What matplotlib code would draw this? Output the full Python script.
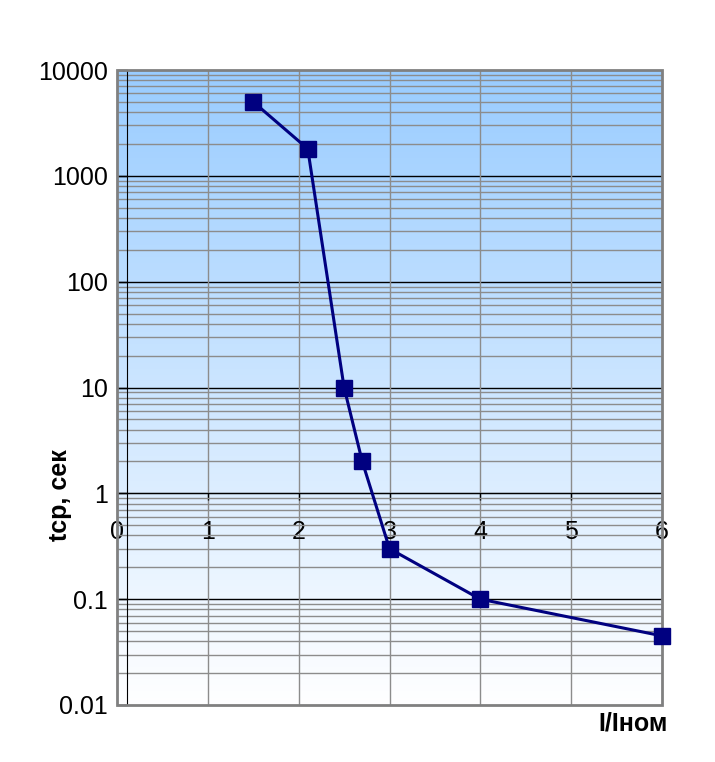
import numpy as np
import matplotlib.pyplot as plt
from matplotlib.patches import Rectangle
from matplotlib.ticker import LogLocator, FixedLocator, NullFormatter

plt.rcParams['font.family'] = ['Liberation Sans', 'DejaVu Sans']

# data
i_ratio = [1.5, 2.1, 2.5, 2.7, 3, 4, 6]
t_sec = [5000, 1800, 10, 2, 0.3, 0.1, 0.045]
y_ticks = [0.01, 0.1, 1, 10, 100, 1000, 10000]
y_labels = ['0.01', '0.1', '1', '10', '100', '1000', '10000']
x_ticks = [0, 1, 2, 3, 4, 5, 6]

fig = plt.figure(figsize=(7.15, 7.62), dpi=100)
ax = fig.add_axes([117/715, 1 - 705/762, 545/715, 635/762])

ax.set_yscale('log')
ax.set_xlim(0, 6)
ax.set_ylim(0.01, 10000)

# gradient background, light blue at top to white at bottom
grad = np.linspace(0, 1, 256).reshape(-1, 1)
top = np.array([153, 204, 255]) / 255
bottom = np.array([255, 255, 255]) / 255
img = bottom + (top - bottom) * grad[..., None]
ax.imshow(img, extent=[0, 1, 0, 1], transform=ax.transAxes, origin='lower',
          aspect='auto', zorder=0)

# grid
ax.yaxis.set_major_locator(FixedLocator(y_ticks))
ax.set_yticklabels(y_labels)
ax.yaxis.set_minor_locator(LogLocator(base=10, subs=np.arange(2, 10)))
ax.yaxis.set_minor_formatter(NullFormatter())
for y in y_ticks[1:-1]:
    ax.axhline(y, color='black', lw=1, zorder=1)
ax.grid(True, which='minor', axis='y', color='#8c8c8c', lw=1, zorder=1)
for x in x_ticks[1:-1]:
    ax.axvline(x, color='#8c8c8c', lw=1, zorder=1)

# axes lines: x axis crosses at t=1, y axis slightly right of 0
for s in ['top', 'right']:
    ax.spines[s].set_visible(False)
ax.spines['bottom'].set_position(('data', 1))
ax.spines['bottom'].set_color('black')
ax.spines['left'].set_position(('data', 0.11))
ax.spines['left'].set_color('black')
ax.set_xticks(x_ticks)
ax.tick_params(axis='x', direction='out', length=5, width=1, pad=14, labelsize=18)
ax.tick_params(axis='y', which='major', direction='out', length=7, width=1, pad=7, labelsize=18)
ax.tick_params(axis='y', which='minor', length=0)

ax.add_patch(Rectangle((0, 0), 1, 1, transform=ax.transAxes, fill=False,
                       edgecolor='#808080', lw=2, clip_on=False, zorder=5))

ax.plot(i_ratio, t_sec, color='#000080', lw=2.2, marker='s', markersize=11,
        markerfacecolor='#000080', markeredgecolor='#000080', zorder=6, clip_on=False)

ax.set_ylabel('tср, сек', fontsize=18, fontweight='bold')
ax.yaxis.set_label_coords(-0.083, 0.331)
ax.text(1.01, -0.01, 'I/Iном', transform=ax.transAxes, ha='right', va='top',
        fontsize=18, fontweight='bold')

fig.savefig('out.png', dpi=100)
